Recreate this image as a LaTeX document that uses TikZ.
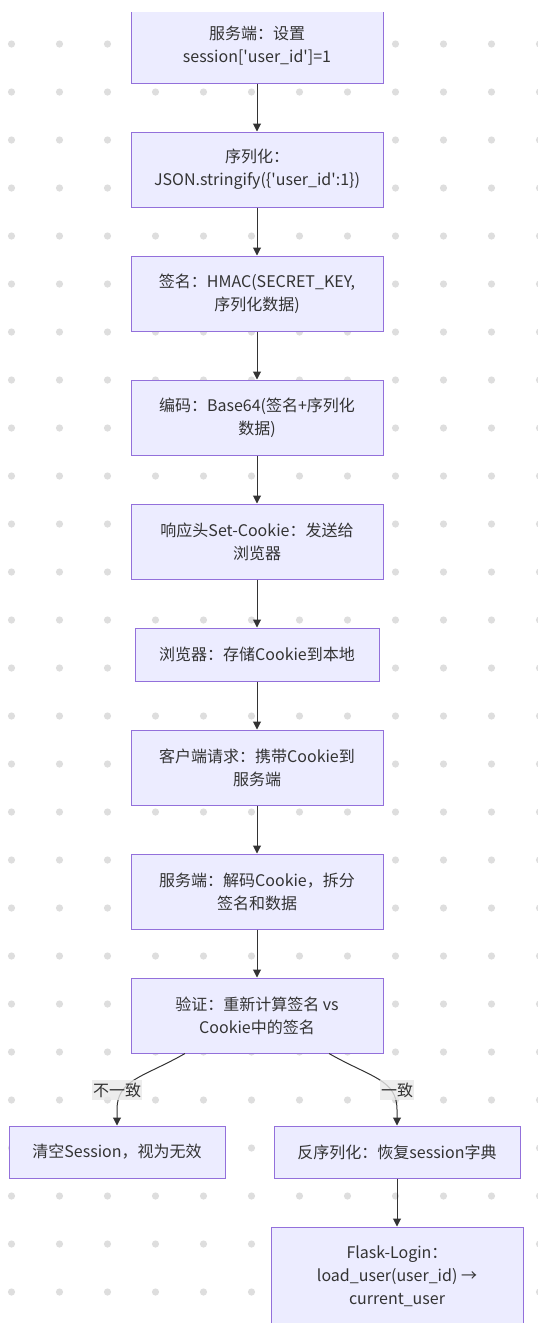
\documentclass[tikz,border=0pt]{standalone}
\usepackage{fontspec}
\setmainfont{Noto Sans CJK SC}[Ligatures=TeXOff]
\usetikzlibrary{arrows.meta}
\definecolor{boxfill}{HTML}{ECECFF}
\definecolor{boxline}{HTML}{9370DB}
\definecolor{edgec}{HTML}{333333}
\definecolor{dotc}{HTML}{DEDEDE}
\definecolor{lblbg}{HTML}{E8E8E8}
\begin{document}
\begin{tikzpicture}[x=0.75pt,y=-0.75pt,
  stepbox/.style={draw=boxline, fill=boxfill, line width=0.75pt, minimum width=189pt, minimum height=56.25pt, inner sep=0pt, align=center, text=edgec, font=\fontsize{12}{17.25}\selectfont},
  flow/.style={draw=edgec, line width=0.75pt, -{Triangle[length=6pt,width=6pt]}},
  lbl/.style={fill=lblbg, fill opacity=0.8, text opacity=1, text=edgec, inner xsep=0.5pt, inner ysep=2pt, font=\fontsize{12}{14}\selectfont}]
\useasboundingbox (0,0) rectangle (538,1336);
\begin{scope}
\clip (0,12) rectangle (538,1322);
\foreach \i in {0,...,11} {
  \foreach \j in {0,...,26} {
    \fill[dotc] (11.5+48*\i,44+48*\j) circle (2.7pt);
  }
}
\node[stepbox] (b1) at (257,45.5) {服务端：设置\\session['user\_id']=1};
\node[stepbox] (b2) at (257,169.5) {序列化：\\JSON.stringify(\{'user\_id':1\})};
\node[stepbox] (b3) at (257,293.5) {签名：HMAC(SECRET\_KEY,\\序列化数据)};
\node[stepbox] (b4) at (257,417.5) {编码：Base64(签名+序列化\\数据)};
\node[stepbox] (b5) at (257,541.5) {响应头Set-Cookie：发送给\\浏览器};
\node[stepbox, minimum width=183pt, minimum height=39.75pt] (b6) at (257,654.5) {浏览器：存储Cookie到本地};
\node[stepbox] (b7) at (257,767.5) {客户端请求：携带Cookie到\\服务端};
\node[stepbox] (b8) at (257,891.5) {服务端：解码Cookie，拆分\\签名和数据};
\node[stepbox] (b9) at (257,1015.5) {验证：重新计算签名 vs\\Cookie中的签名};
\node[stepbox, minimum width=162pt, minimum height=39pt] (b10) at (117,1152) {清空Session，视为无效};
\node[stepbox, minimum width=184.5pt, minimum height=39pt] (b11) at (397,1152) {反序列化：恢复session字典};
\node[stepbox, minimum height=74.25pt] (b12) at (397,1276.5) {Flask-Login：\\load\_user(user\_id) →\\current\_user};
\draw[flow] (b1) -- (b2);
\draw[flow] (b2) -- (b3);
\draw[flow] (b3) -- (b4);
\draw[flow] (b4) -- (b5);
\draw[flow] (b5) -- (b6);
\draw[flow] (b6) -- (b7);
\draw[flow] (b7) -- (b8);
\draw[flow] (b8) -- (b9);
\draw[flow] ([xshift=-54pt]b9.south) .. controls +(-42,24) and +(0,-30) .. ([yshift=12pt]b10.north) -- (b10.north);
\draw[flow] ([xshift=54pt]b9.south) .. controls +(42,24) and +(0,-30) .. ([yshift=12pt]b11.north) -- (b11.north);
\draw[flow] (b11) -- (b12);
\node[lbl] (l1) at (117,1090) {不一致};
\node[lbl] (l2) at (397,1090) {一致};
\end{scope}
\end{tikzpicture}
\end{document}
